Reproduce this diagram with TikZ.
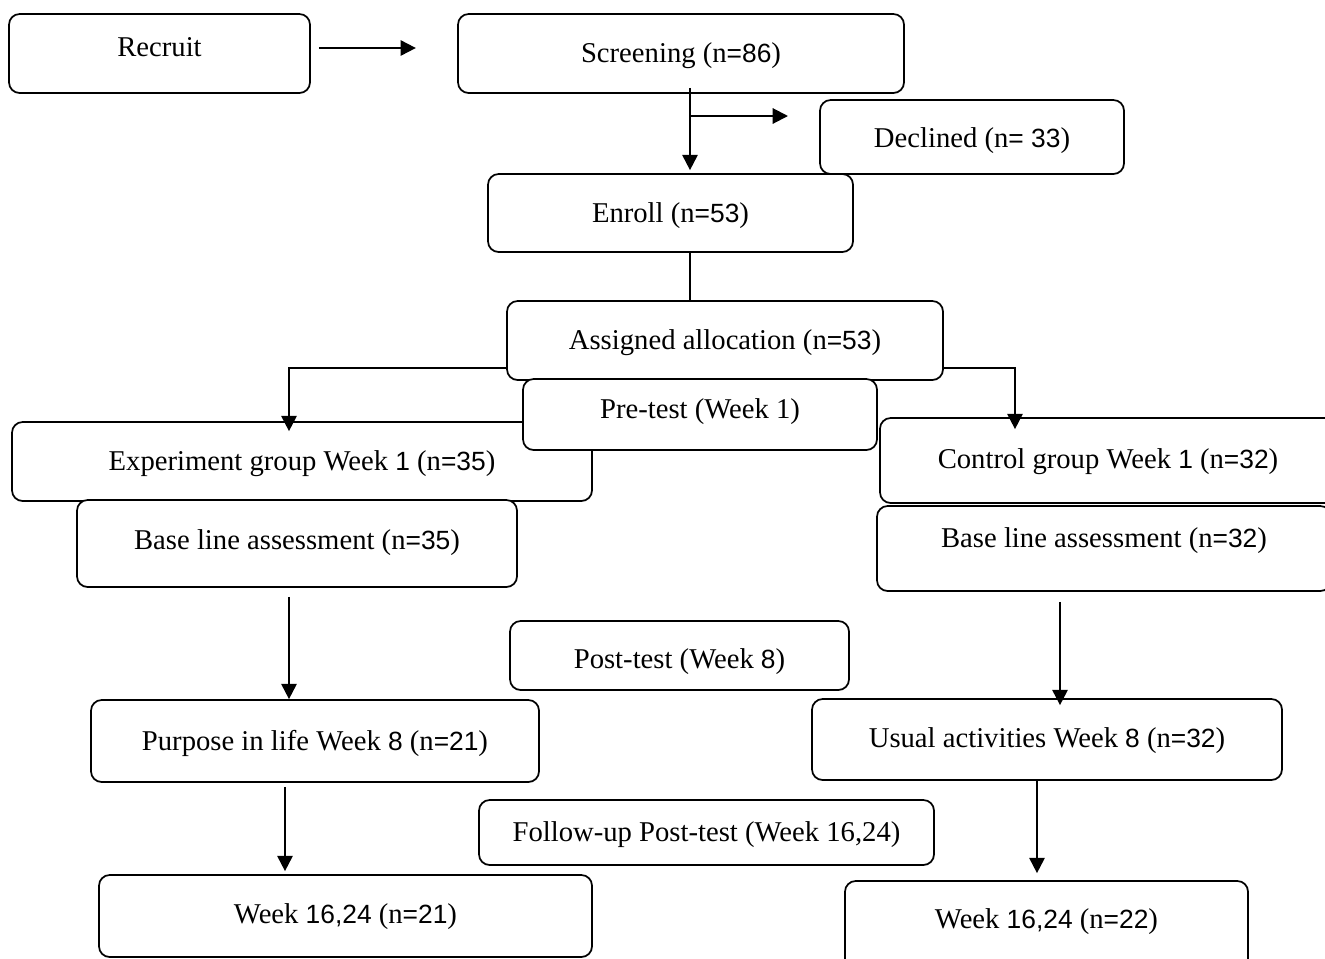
\documentclass[tikz,border=0pt]{standalone}
\usepackage{fontspec}
\setmainfont{Liberation Serif}
\newfontfamily\sn[Scale=0.92]{Liberation Sans}
\usetikzlibrary{arrows.meta,calc}
\tikzset{
  box/.style n args={3}{draw, line width=1.3pt, rounded corners=8pt, fill=white,
    minimum width=#1*0.75pt, minimum height=#2*0.75pt, inner sep=0pt,
    text height=20pt, text depth=6.5pt+#3*1.5pt, align=center,
    font=\fontsize{21.5}{24}\selectfont},
  arr/.style={line width=1.5pt, -{Triangle[length=11.5pt,width=11.5pt]}},
  ln/.style={line width=1.5pt},
}
\begin{document}
\begin{tikzpicture}[x=0.75pt,y=-0.75pt]
\useasboundingbox (0,0) rectangle (1325,958);
% boxes
\node[box={301}{79}{6.5}] (recruit) at (159.5,53.5) {Recruit};
\node[box={446}{79}{0}] (screen) at (681,53.5) {Screening (n{\sn =86})};
\node[box={304}{74}{-1}] (declined) at (972,137) {Declined (n{\sn = 33})};
\node[box={365}{78}{0}] (enroll) at (670.5,213) {Enroll (n{\sn =53})};
\node[box={580}{79}{0}] (exp) at (302,461.5) {Experiment group Week {\sn 1} (n{\sn =35})};
\node[box={436}{79}{0}] (alloc) at (725,340.5) {Assigned allocation (n{\sn =53})};
\node[box={354}{71}{5.5}] (pre) at (700,414.5) {Pre-test (Week 1)};
\node[box={456}{85}{1}] (ctrl) at (1108,460.5) {Control group Week {\sn 1} (n{\sn =32})};
\node[box={440}{87}{3.5}] (base1) at (297,543.5) {Base line assessment (n{\sn =35})};
\node[box={454}{85}{10}] (base2) at (1104,548.5) {Base line assessment (n{\sn =32})};
\node[box={339}{69}{-3.5}] (post) at (679.5,655.5) {Post-test (Week {\sn 8})};
\node[box={448}{82}{0}] (purpose) at (315,741) {Purpose in life Week {\sn 8} (n{\sn =21})};
\node[box={470}{81}{1}] (usual) at (1047,739.5) {Usual activities Week {\sn 8} (n{\sn =32})};
\node[box={455}{65}{0}] (follow) at (706.5,832.5) {Follow-up Post-test (Week 16,24)};
\node[box={493}{82}{2}] (w1) at (345.5,916) {Week {\sn 16,24} (n{\sn =21})};
\node[box={403}{89}{6.5}] (w2) at (1046.5,925.5) {Week {\sn 16,24} (n{\sn =22})};
% helper coordinates
\coordinate (cx) at (690,116);
\coordinate (dx) at (788,116);
\coordinate (lx) at (289,368);
\coordinate (rx) at (1015,368);
% connectors
\draw[arr] ($(recruit.east)+(8,-5.5)$) -- ($(recruit.east)+(105,-5.5)$);
\draw[arr] ($(screen.south -| cx)+(0,-6)$) -- ($(enroll.north -| cx)+(0,-3)$);
\draw[arr] (cx) -- (dx);
\draw[ln] (enroll.south -| cx) -- (alloc.north -| cx);
\draw[arr] (alloc.west |- lx) -- (lx) -- ($(exp.north -| lx)+(0,10)$);
\draw[arr] (alloc.east |- rx) -- (rx) -- ($(ctrl.north -| rx)+(0,12)$);
\draw[arr] ($(base1.south -| lx)+(0,9)$) -- (purpose.north -| lx);
\coordinate (r2) at (1060,0);
\draw[arr] ($(base2.south -| r2)+(0,10)$) -- ($(usual.north -| r2)+(0,7)$);
\coordinate (l3) at (285,0);
\draw[arr] ($(purpose.south -| l3)+(0,4)$) -- ($(w1.north -| l3)+(0,-3)$);
\coordinate (r3) at (1037,0);
\draw[arr] (usual.south -| r3) -- ($(w2.north -| r3)+(0,-7)$);
\end{tikzpicture}
\end{document}
